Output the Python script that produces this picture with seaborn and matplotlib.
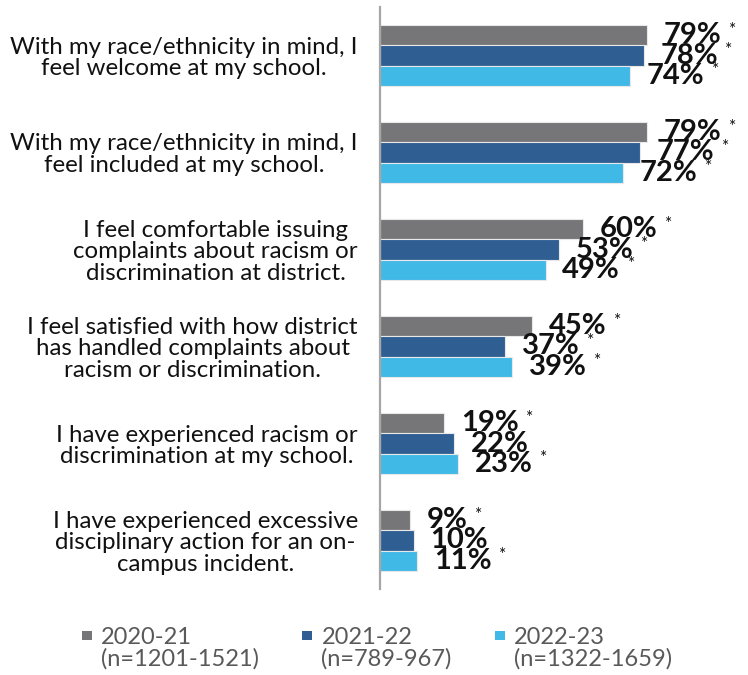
import matplotlib
matplotlib.use("Agg")
import pandas as pd
import matplotlib.pyplot as plt
import seaborn as sns
from matplotlib.lines import Line2D
from matplotlib.path import Path

categories = [
    "With my race/ethnicity in mind, I\nfeel welcome at my school.",
    "With my race/ethnicity in mind, I\nfeel included at my school.",
    "I feel comfortable issuing\ncomplaints about racism or\ndiscrimination at district.",
    "I feel satisfied with how district\nhas handled complaints about\nracism or discrimination.",
    "I have experienced racism or\ndiscrimination at my school.",
    "I have experienced excessive\ndisciplinary action for an on-\ncampus incident.",
]
years = ["2020-21", "2021-22", "2022-23"]
sample_sizes = ["(n=1201-1521)", "(n=789-967)", "(n=1322-1659)"]

vals_2021 = [79, 79, 60, 45, 19, 9]
vals_2122 = [78, 77, 53, 37, 22, 10]
vals_2223 = [74, 72, 49, 39, 23, 11]

# asterisk shown next to the value label
sig_2021 = [True, True, True, True, True, True]
sig_2122 = [True, True, True, True, False, False]
sig_2223 = [True, True, True, True, True, True]

colors = ["#767678", "#2F5F92", "#41B9E6"]

FONT = ["Lato", "DejaVu Sans"]

sns.set_style("white")
plt.rcParams["font.family"] = FONT

df = pd.DataFrame({
    "category": categories * 3,
    "year": [years[0]] * 6 + [years[1]] * 6 + [years[2]] * 6,
    "value": vals_2021 + vals_2122 + vals_2223,
})
sigs = [sig_2021, sig_2122, sig_2223]

fig = plt.figure(figsize=(7.48, 6.75), dpi=100)
ax = fig.add_axes([380 / 748, 86 / 675, 360 / 748, 582 / 675])

sns.barplot(
    data=df, x="value", y="category", hue="year", orient="h",
    palette=colors, saturation=1, width=0.62, edgecolor="#e8e8e8",
    linewidth=0.8, legend=False, ax=ax,
)

ax.set_xlim(0, 106.5)
ax.set_xlabel("")
ax.set_ylabel("")
ax.set_xticks([])
ax.tick_params(axis="y", length=0, pad=16)
for lab in ax.get_yticklabels():
    lab.set_fontsize(17.3)
    lab.set_multialignment("center")
    lab.set_linespacing(1.05)
    lab.set_color("#111111")

for s in ["top", "right", "bottom"]:
    ax.spines[s].set_visible(False)
ax.spines["left"].set_color("#A6A6A6")
ax.spines["left"].set_linewidth(1.6)

# value labels + asterisks
for cont, sig in zip(ax.containers, sigs):
    texts = ax.bar_label(cont, fmt="%d%%", padding=12, fontsize=21,
                         fontweight="bold", color="#111111")
    for txt, flag in zip(texts, sig):
        if flag:
            ax.annotate("*", xy=(1, 0.72), xycoords=txt, xytext=(8, 0),
                        textcoords="offset points", fontsize=12.5,
                        ha="center", va="center", color="#111111")

# legend: square sitting beside the first line of a two-line label
a = 1.9
sq = Path([(-1, a), (1, a), (1, a + 2), (-1, a + 2), (-1, a)])
handles = [
    Line2D([], [], linestyle="none", marker=sq, markersize=6.5 * (a + 2),
           markerfacecolor=c, markeredgewidth=0)
    for c in colors
]
labels = [f"{y}\n{n}" for y, n in zip(years, sample_sizes)]
leg = fig.legend(
    handles, labels, loc="upper left", bbox_to_anchor=(60 / 748, 1 - 606 / 675),
    ncol=3, frameon=False, fontsize=17, labelcolor="#595959",
    handlelength=0.5, handletextpad=0.35, columnspacing=1.78,
)
for t in leg.get_texts():
    t.set_linespacing(1.0)

fig.savefig("out.png", dpi=100)
